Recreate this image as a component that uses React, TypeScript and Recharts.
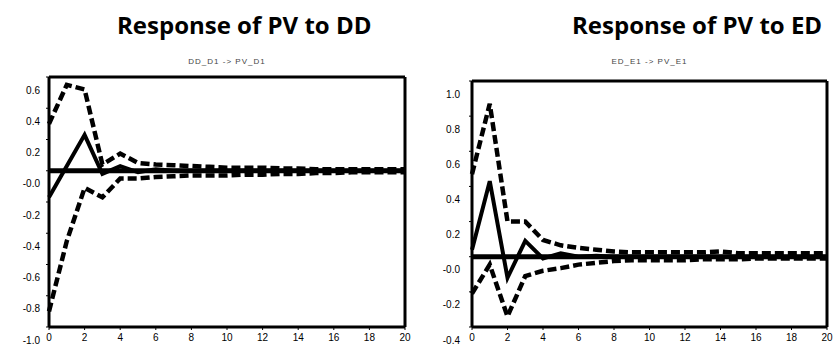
import { LineChart, Line, XAxis, YAxis, ReferenceLine } from 'recharts';

const periods = [0, 1, 2, 3, 4, 5, 6, 7, 8, 9, 10, 11, 12, 13, 14, 15, 16, 17, 18, 19, 20];
const xTicks = [0, 2, 4, 6, 8, 10, 12, 14, 16, 18, 20];

// Response of PV to DD
const ddResponse = [-0.17, 0.03, 0.23, -0.02, 0.03, -0.01, 0.01, 0, 0, 0, 0, 0, 0, 0, 0, 0, 0, 0, 0, 0, 0];
const ddUpper = [0.3, 0.55, 0.52, 0.04, 0.11, 0.05, 0.04, 0.035, 0.03, 0.025, 0.02, 0.02, 0.02, 0.015, 0.015, 0.01, 0.01, 0.01, 0.01, 0.01, 0.01];
const ddLower = [-0.9, -0.45, -0.11, -0.17, -0.05, -0.05, -0.04, -0.035, -0.03, -0.03, -0.03, -0.025, -0.025, -0.02, -0.02, -0.015, -0.015, -0.01, -0.01, -0.01, -0.01];
const ddTicks = [-1.0, -0.8, -0.6, -0.4, -0.2, 0, 0.2, 0.4, 0.6];

// Response of PV to ED
const edResponse = [0.04, 0.43, -0.12, 0.09, -0.01, 0.02, 0, 0.005, 0, 0, 0, 0, 0, 0, 0, 0, 0, 0, 0, 0, 0];
const edUpper = [0.47, 0.87, 0.2, 0.2, 0.095, 0.065, 0.05, 0.04, 0.03, 0.025, 0.025, 0.025, 0.025, 0.025, 0.03, 0.02, 0.02, 0.02, 0.02, 0.02, 0.02];
const edLower = [-0.21, -0.045, -0.34, -0.11, -0.08, -0.065, -0.045, -0.035, -0.025, -0.02, -0.02, -0.02, -0.02, -0.015, -0.015, -0.015, -0.01, -0.01, -0.01, -0.01, -0.01];
const edTicks = [-0.4, -0.2, 0, 0.2, 0.4, 0.6, 0.8, 1.0];

const toRows = (resp: number[], up: number[], lo: number[]) =>
  periods.map((p, i) => ({ period: p, response: resp[i], upper: up[i], lower: lo[i] }));

const fmt = (v: number) => (Math.abs(v) < 1e-9 ? '-0.0' : v.toFixed(1));

const YTick = (props: any) => {
  const { x, y, payload } = props;
  return (
    <text x={x} y={y + 13} textAnchor="end" dominantBaseline="central" fontSize={10} fill="#000" fontFamily="Liberation Sans, Arial, sans-serif">
      {fmt(payload.value)}
    </text>
  );
};

interface PanelProps {
  left: number;
  width: number;
  top: number;
  yWidth: number;
  rightGap: number;
  domain: [number, number];
  ticks: number[];
  data: any[];
  subtitle: string;
}

function Panel({ left, width, top, yWidth, rightGap, domain, ticks, data, subtitle }: PanelProps) {
  const plotCenter = yWidth + (width - yWidth - rightGap) / 2;
  return (
    <div style={{ position: 'absolute', left, top: 0, width, height: 345 }}>
      <div
        style={{
          position: 'absolute',
          left: plotCenter - 80,
          width: 160,
          top: 57,
          textAlign: 'center',
          fontSize: 8,
          lineHeight: '10px',
          color: '#444',
          fontFamily: 'Liberation Sans, Arial, sans-serif',
          letterSpacing: 1,
        }}
      >
        {subtitle}
      </div>
      <LineChart width={width} height={345} data={data} margin={{ top, right: rightGap, left: 0, bottom: 0 }}>
        <XAxis
          dataKey="period"
          type="number"
          domain={[0, 20]}
          ticks={xTicks}
          interval={0}
          height={18}
          tickSize={3}
          tickMargin={4}
          axisLine={{ stroke: '#000', strokeWidth: 3 }}
          tickLine={{ stroke: '#000' }}
          tick={{ fontSize: 10, fill: '#000', fontFamily: 'Liberation Sans, Arial, sans-serif' }}
        />
        <YAxis
          type="number"
          domain={domain}
          ticks={ticks}
          interval={0}
          width={yWidth}
          tickSize={3}
          tickMargin={yWidth > 50 ? 9 : 6}
          axisLine={{ stroke: '#000', strokeWidth: 3 }}
          tickLine={{ stroke: '#000' }}
          tick={<YTick />}
        />
        <ReferenceLine y={domain[1]} stroke="#000" strokeWidth={3} />
        <ReferenceLine x={20} stroke="#000" strokeWidth={3} />
        <ReferenceLine y={0} stroke="#000" strokeWidth={5} />
        <Line type="linear" dataKey="upper" stroke="#000" strokeWidth={4.5} strokeDasharray="9 4" dot={false} isAnimationActive={false} />
        <Line type="linear" dataKey="lower" stroke="#000" strokeWidth={4.5} strokeDasharray="9 4" dot={false} isAnimationActive={false} />
        <Line type="linear" dataKey="response" stroke="#000" strokeWidth={4} dot={false} isAnimationActive={false} />
      </LineChart>
    </div>
  );
}

const titleStyle: React.CSSProperties = {
  position: 'absolute',
  top: 13,
  fontFamily: '"Open Sans", sans-serif',
  fontWeight: 700,
  fontSize: 24,
  lineHeight: '24px',
  color: '#000',
  whiteSpace: 'nowrap',
};

export default function App() {
  return (
    <div style={{ position: 'absolute', left: 0, top: 0, width: 835, height: 345, background: '#fff', overflow: 'hidden' }}>
      <Panel
        left={0}
        width={420}
        top={77}
        yWidth={49}
        rightGap={15}
        domain={[-1.0, 0.6]}
        ticks={ddTicks}
        data={toRows(ddResponse, ddUpper, ddLower)}
        subtitle="DD_D1 -> PV_D1"
      />
      <Panel
        left={420}
        width={415}
        top={81}
        yWidth={52}
        rightGap={8}
        domain={[-0.4, 1.0]}
        ticks={edTicks}
        data={toRows(edResponse, edUpper, edLower)}
        subtitle="ED_E1 -> PV_E1"
      />
      <div style={{ ...titleStyle, left: 117 }}>Response of PV to DD</div>
      <div style={{ ...titleStyle, left: 572 }}>Response of PV to ED</div>
    </div>
  );
}
